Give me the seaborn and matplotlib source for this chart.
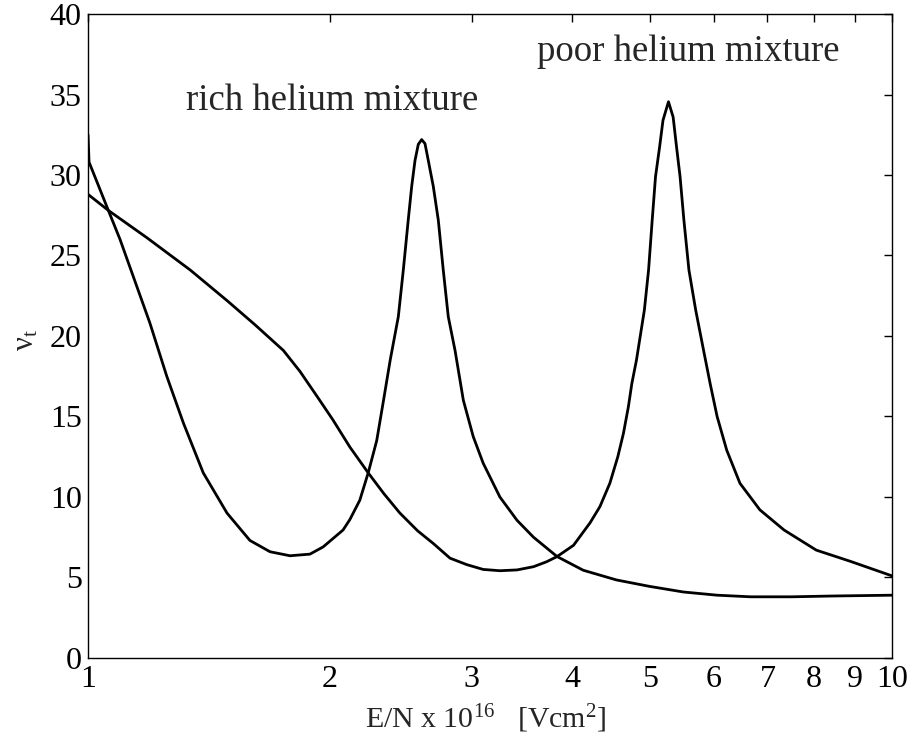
import matplotlib
matplotlib.use("Agg")
import matplotlib.pyplot as plt
import seaborn as sns
import pandas as pd

# rich helium mixture: collision frequency vs reduced field E/N
rich_en = [1.000, 1.003, 1.06, 1.096, 1.194, 1.253, 1.314, 1.391, 1.489, 1.590,
           1.684, 1.783, 1.888, 1.961, 2.076, 2.117, 2.178, 2.231, 2.286, 2.331,
           2.376, 2.432, 2.467, 2.502, 2.527, 2.551, 2.575, 2.600, 2.625, 2.650,
           2.688, 2.727, 2.766, 2.806, 2.861, 2.930, 3.014, 3.101, 3.253, 3.417,
           3.582, 3.832, 4.13, 4.54, 4.99, 5.50, 6.06, 6.67, 7.5, 8.44, 10.0]
rich_nu = [32.5, 30.8, 27.8, 26.0, 20.8, 17.5, 14.6, 11.5, 9.0, 7.3,
           6.6, 6.35, 6.45, 6.9, 7.95, 8.6, 9.8, 11.5, 13.5, 16.0,
           18.5, 21.2, 24.1, 27.2, 29.3, 30.9, 31.9, 32.2, 31.95, 30.9,
           29.3, 27.2, 24.1, 21.2, 19.1, 16.0, 13.75, 12.1, 10.0, 8.55,
           7.5, 6.3, 5.45, 4.85, 4.45, 4.1, 3.9, 3.8, 3.8, 3.85, 3.9]

# poor helium mixture
poor_en = [1.000, 1.06, 1.184, 1.34, 1.489, 1.613, 1.750, 1.835, 1.93, 2.016,
           2.117, 2.231, 2.334, 2.443, 2.57, 2.69, 2.82, 2.958, 3.101, 3.253,
           3.417, 3.582, 3.72, 3.832, 4.017, 4.212, 4.332, 4.457, 4.56, 4.634,
           4.70, 4.747, 4.81, 4.92, 4.98, 5.032, 5.08, 5.14, 5.19, 5.272,
           5.343, 5.395, 5.45, 5.51, 5.59, 5.70, 5.83, 5.94, 6.06, 6.23,
           6.47, 6.85, 7.34, 8.05, 8.88, 10.0]
poor_nu = [28.8, 27.8, 26.1, 24.1, 22.2, 20.7, 19.1, 17.8, 16.2, 14.8,
           13.1, 11.5, 10.2, 9.0, 7.9, 7.1, 6.2, 5.8, 5.5, 5.42,
           5.47, 5.67, 5.98, 6.3, 7.0, 8.4, 9.4, 10.85, 12.5, 13.95,
           15.6, 17.05, 18.5, 21.6, 24.1, 27.2, 29.9, 31.75, 33.4, 34.55,
           33.6, 31.75, 29.9, 27.2, 24.1, 21.6, 19.1, 17.05, 15.0, 12.9,
           10.85, 9.2, 7.95, 6.7, 6.0, 5.1]

x_ticks = [1, 2, 3, 4, 5, 6, 7, 8, 9, 10]
y_ticks = [0, 5, 10, 15, 20, 25, 30, 35, 40]

sns.set_theme(style="white")
plt.rcParams["font.family"] = ["Liberation Serif", "DejaVu Serif"]
plt.rcParams["mathtext.fontset"] = "custom"
plt.rcParams["mathtext.rm"] = "Liberation Serif"
plt.rcParams["mathtext.it"] = "Liberation Serif:italic"

fig = plt.figure(figsize=(9.13, 7.45), dpi=100)
ax = fig.add_axes([0.0964, 0.1168, 0.8806, 0.8644])

rich = pd.DataFrame({"en": rich_en, "nu": rich_nu})
poor = pd.DataFrame({"en": poor_en, "nu": poor_nu})
for df in (rich, poor):
    sns.lineplot(data=df, x="en", y="nu", color="black", linewidth=2.0,
                 estimator=None, sort=False, ax=ax,
                 solid_joinstyle="round", solid_capstyle="round")

ax.set_xscale("log")
ax.set_xlim(1, 10)
ax.set_ylim(0, 40)
ax.set_xticks(x_ticks)
ax.set_xticklabels([str(t) for t in x_ticks])
ax.minorticks_off()
ax.set_yticks(y_ticks)
ax.set_yticklabels([str(t) for t in y_ticks])

ax.tick_params(axis="both", which="both", direction="in", length=6, width=1,
               top=True, right=True, labelsize=23, colors="black")
ax.tick_params(axis="x", pad=5)
ax.tick_params(axis="y", pad=4.5)
for s in ax.spines.values():
    s.set_color("black")
    s.set_linewidth(1.0)

ax.set_xlabel("")
ax.set_ylabel("")
fig.text(486 / 913, 17 / 745, r"E/N x 10$^{\mathrm{16}}$   [Vcm$^{\mathrm{2}}$]",
         fontsize=21.5, ha="center", va="baseline")
fig.text(26 / 913, (745 - 340) / 745, r"ν$_{\mathrm{t}}$", fontsize=22,
         rotation=90, ha="center", va="center")

ax.text(1.324, 34.04, "rich helium mixture", fontsize=26.5, ha="left",
        va="baseline")
ax.text(3.615, 37.08, "poor helium mixture", fontsize=26.5, ha="left",
        va="baseline")

fig.savefig("out.png", dpi=100)
